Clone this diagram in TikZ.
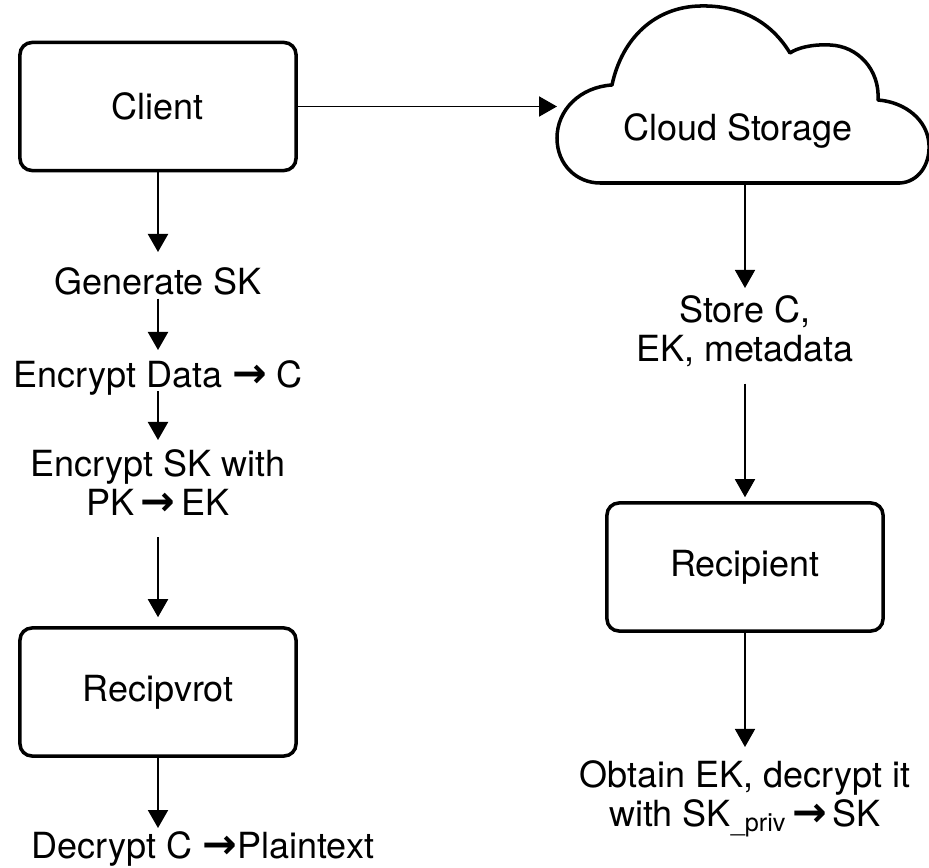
\documentclass[tikz,border=0pt]{standalone}
\usepackage{fontspec}
\setmainfont{TeX Gyre Heros}
\newfontfamily\arrowfont[Scale=1.15]{DejaVu Sans Bold}
\usetikzlibrary{arrows.meta}
\newcommand{\arr}{{\arrowfont →}}
\tikzset{
    every node/.style={inner sep=0pt, font=\fontsize{25.6pt}{27.7pt}\selectfont}
}
\tikzset{
    box/.style={draw, rectangle, rounded corners=0.3cm, line width=2.5pt,
    	minimum width=6.9cm, minimum height=3.2cm},
    steptext/.style={anchor=north, align=center},
    thinflow/.style={line width=1.1pt}
}
\tikzset{
    every edge/.append style={line width=1.4pt, -{Triangle[length=0.45cm, width=0.5cm]}}
}

\begin{document}
\begin{tikzpicture}[x=0.025cm, y=-0.025cm]
	\useasboundingbox (0,0) rectangle (929,868);

	% left column
	\node (client) [box] at (158, 106.5) {Client};
	\node (genkey) [steptext] at (158, 267) {Generate SK};
	\node (encdata) [steptext] at (158, 360) {Encrypt Data \arr{} C};
	\node (enckey) [steptext] at (158, 449) {Encrypt SK with\\PK\,\arr\,EK};
	\node (recipvrot) [box] at (158, 692) {Recipvrot};
	\node (decrypt) [steptext] at (203, 831) {Decrypt C \arr Plaintext};

	% cloud
	\draw[line width=2.5pt, line join=round] (600,183) -- (900,183)
		.. controls (918,182) and (930,165) .. (929,145)
		.. controls (928,120) and (905,102) .. (878,100)
		.. controls (880,70) and (858,46) .. (830,45)
		.. controls (812,44) and (797,48) .. (790,53)
		.. controls (770,20) and (738,5) .. (700,6)
		.. controls (655,7) and (622,38) .. (612,85)
		.. controls (580,87) and (557,110) .. (557,138)
		.. controls (557,165) and (577,183) .. (600,183) -- cycle;
	\node (cloud) [steptext] at (738, 113) {Cloud Storage};
	\coordinate (cloudin) at (557, 106.5);
	\coordinate (cloudout) at (745, 183);

	% right column
	\node (store) [steptext] at (745, 295) {Store C,\\EK, metadata};
	\node (recipient) [box] at (745, 567) {Recipient};
	\node (obtain) [steptext] at (745, 760) {Obtain EK, decrypt it\\with SK\textsubscript{\_priv}\,\arr\,SK};

	\draw (client.east) edge (cloudin);
	\draw (client.south) edge[shorten >=0.375cm] (genkey.north);
	\draw (genkey.south) edge[shorten <=0.09cm, shorten >=0.25cm] (encdata.north);
	\draw (encdata.south) edge[shorten <=-0.1cm, shorten >=0.225cm] (enckey.north);
	\draw (enckey.south) edge[shorten <=0.55cm, shorten >=0.225cm] (recipvrot.north);
	\draw (recipvrot.south) edge[shorten >=0.075cm] (recipvrot.south |- decrypt.north);
	\draw (cloudout) edge[thinflow, shorten >=0.175cm] (store.north);
	\draw (store.south) edge[thinflow, shorten <=0.425cm, shorten >=0.1cm] (recipient.north);
	\draw (recipient.south) edge[thinflow, shorten >=0.325cm] (obtain.north);
\end{tikzpicture}
\end{document}
